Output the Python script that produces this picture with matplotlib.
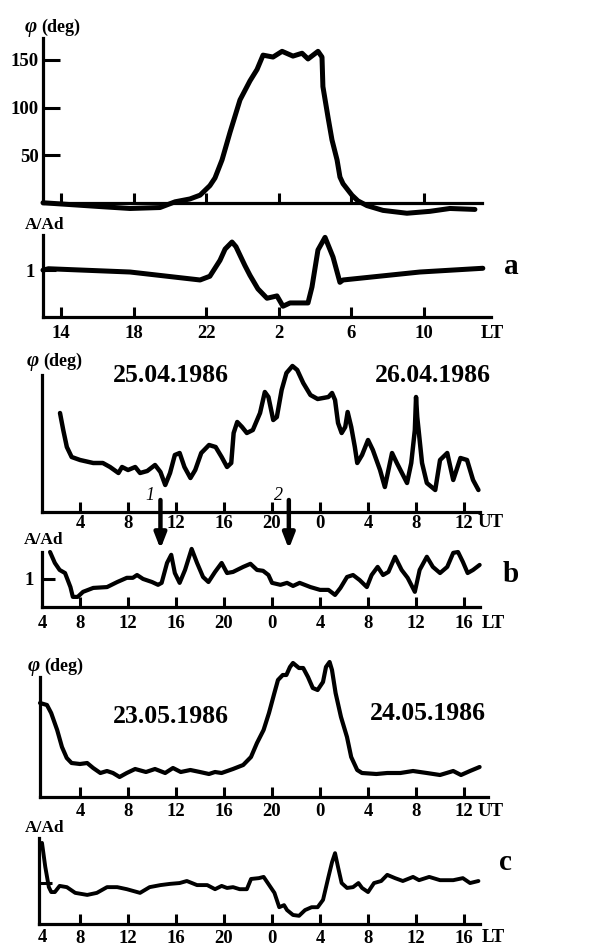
import matplotlib.pyplot as plt

plt.rcParams['font.family'] = ['Liberation Serif', 'DejaVu Serif']
plt.rcParams['font.weight'] = 'bold'

# ---- panel a (hours, continuous LT: 26 = 2 h next day) ----
a_phase_h = [13.0, 16.15, 17.8, 19.45, 20.28, 21.1, 21.66, 22.2, 22.48, 22.87, 23.31, 23.86,
             24.41, 24.8, 25.13, 25.68, 26.18, 26.78, 27.28, 27.61, 28.16, 28.38, 28.43, 28.71,
             28.93, 29.21, 29.37, 29.54, 30.03, 30.36, 30.86, 31.74, 33.06, 34.33, 35.43, 36.81]
a_phase = [0, -4, -6, -5, 1, 4, 8, 18, 26, 45, 74, 108,
           128, 140, 155, 153, 159, 154, 157, 151, 159, 153, 122, 90,
           66, 45, 27, 20, 8, 2, -3, -8, -11, -9, -6, -7]

a_amp_h = [13.0, 13.3, 17.8, 21.66, 22.2, 22.76, 23.04, 23.42, 23.64, 23.86, 24.13, 24.41, 24.85,
           25.35, 25.9, 26.23, 26.62, 27.61, 27.83, 28.16, 28.55, 28.99, 29.37, 29.54, 33.78, 37.25]
a_amp = [1.0, 1.03, 0.96, 0.79, 0.87, 1.21, 1.45, 1.6, 1.5, 1.32, 1.1, 0.89, 0.6,
         0.4, 0.45, 0.23, 0.3, 0.3, 0.64, 1.43, 1.7, 1.28, 0.74, 0.79, 0.96, 1.04]

a_ticks = [14, 18, 22, 26, 30, 34]
a_tick_labels = ['14', '18', '22', '2', '6', '10']
a_phase_ticks = [50, 100, 150]

# ---- panel b (hours UT, continuous from 25.04.1986 0 UT) ----
b_phase_h = [2.33, 2.6, 2.9, 3.3, 4.0, 5.1, 5.9, 6.5, 7.2, 7.5, 8.0, 8.6, 9.0, 9.6, 10.25, 10.7,
             11.1, 11.5, 11.9, 12.3, 12.7, 13.2, 13.6, 14.1, 14.75, 15.3, 15.8, 16.25, 16.6, 16.8,
             17.1, 17.5, 17.9, 18.4, 19.0, 19.4, 19.7, 20.1, 20.4, 20.8, 21.2, 21.7, 22.1, 22.6,
             23.2, 23.8, 24.7, 25.0, 25.25, 25.5, 25.8, 26.1, 26.3, 26.6, 26.9, 27.1, 27.5, 28.0,
             28.4, 29.0, 29.4, 30.0, 30.4, 31.25, 31.6, 31.9, 32.0, 32.1, 32.5, 32.9, 33.6, 34.0,
             34.6, 35.1, 35.7, 36.25, 36.75, 37.2]
b_phase = [99, 82, 65, 55, 52, 49, 49, 45, 39, 45, 42, 45, 39, 41, 47, 40,
           27, 39, 57, 59, 45, 34, 42, 59, 67, 65, 55, 45, 49, 79,
           90, 85, 79, 82, 99, 120, 115, 92, 95, 122, 139, 146, 142, 129,
           117, 113, 115, 119, 112, 89, 79, 85, 100, 85, 65, 49, 57, 72,
           62, 42, 25, 59, 49, 29, 49, 82, 115, 95, 49, 29, 22, 52,
           59, 32, 54, 52, 32, 22]

b_amp_h = [1.5, 1.9, 2.3, 2.75, 3.2, 3.4, 3.8, 4.25, 5.1, 6.25, 7.1, 7.9, 8.4, 8.75, 9.25, 10.0,
           10.5, 10.8, 11.25, 11.6, 11.9, 12.3, 12.75, 13.3, 13.75, 14.25, 14.7, 15.25, 15.8,
           16.25, 16.75, 17.6, 18.2, 18.75, 19.25, 19.7, 20.0, 20.7, 21.25, 21.75, 22.3, 23.2,
           24.0, 24.7, 25.25, 25.7, 26.25, 26.75, 27.3, 27.9, 28.3, 28.8, 29.25, 29.7, 30.25,
           30.8, 31.3, 31.9, 32.3, 32.9, 33.4, 34.0, 34.6, 35.1, 35.5, 35.9, 36.3, 36.75, 37.3]
b_amp = [1.96, 1.57, 1.32, 1.21, 0.71, 0.36, 0.36, 0.54, 0.68, 0.71, 0.89, 1.04, 1.04, 1.14, 1.0, 0.89,
         0.79, 0.86, 1.57, 1.86, 1.21, 0.86, 1.32, 2.07, 1.57, 1.07, 0.89, 1.25, 1.57,
         1.21, 1.25, 1.43, 1.54, 1.32, 1.29, 1.14, 0.86, 0.79, 0.86, 0.75, 0.86, 0.71,
         0.61, 0.61, 0.43, 0.68, 1.07, 1.14, 0.96, 0.71, 1.14, 1.43, 1.14, 1.25, 1.79,
         1.32, 1.04, 0.54, 1.32, 1.79, 1.43, 1.21, 1.43, 1.93, 1.96, 1.61, 1.21, 1.32, 1.5]

b_arrows_h = [10.7, 21.4]
b_arrow_names = ['1', '2']

# ---- panel c ----
c_phase_h = [0.67, 1.25, 1.6, 2.1, 2.5, 2.9, 3.3, 4.0, 4.6, 5.1, 5.7, 6.25, 6.75, 7.3, 7.9, 8.6,
             9.5, 10.25, 11.1, 11.75, 12.4, 13.2, 14.0, 14.75, 15.25, 15.8, 16.75, 17.6, 18.25,
             18.75, 19.3, 19.75, 20.2, 20.5, 20.9, 21.2, 21.5, 21.75, 22.25, 22.6, 23.0, 23.4,
             23.8, 24.25, 24.5, 24.8, 25.0, 25.3, 25.75, 26.25, 26.6, 27.1, 27.5, 28.7, 29.6,
             30.7, 31.75, 32.9, 34.0, 35.1, 35.75, 36.5, 37.3]
c_phase = [94, 92, 84, 67, 50, 39, 34, 33, 34, 29, 24, 26, 24, 20, 24, 28,
           25, 28, 24, 29, 25, 27, 25, 23, 25, 24, 28, 32, 40,
           54, 67, 84, 104, 117, 122, 122, 130, 134, 129, 129, 120, 109,
           107, 115, 130, 135, 127, 104, 80, 60, 40, 27, 24, 23, 24,
           24, 26, 24, 22, 26, 22, 26, 30]

c_amp_h = [0.83, 1.1, 1.4, 1.6, 1.9, 2.3, 2.9, 3.6, 4.6, 5.4, 6.25, 7.1, 7.9, 9.0, 9.8, 10.7,
           11.5, 12.3, 12.9, 13.75, 14.6, 15.25, 15.8, 16.25, 16.75, 17.3, 17.9, 18.25, 18.9,
           19.3, 19.6, 20.2, 20.6, 21.0, 21.25, 21.75, 22.25, 22.75, 23.3, 23.8, 24.25, 24.7,
           25.0, 25.25, 25.5, 25.8, 26.25, 26.75, 27.2, 27.5, 28.0, 28.5, 29.1, 29.6, 30.25,
           30.9, 31.75, 32.25, 33.1, 34.0, 35.1, 35.9, 36.5, 37.2]
c_amp = [1.98, 1.4, 0.9, 0.78, 0.78, 0.93, 0.9, 0.76, 0.71, 0.76, 0.9, 0.9, 0.85, 0.76, 0.9, 0.95,
         0.98, 1.0, 1.05, 0.95, 0.95, 0.85, 0.93, 0.88, 0.9, 0.85, 0.85, 1.1, 1.12,
         1.15, 1.02, 0.76, 0.41, 0.46, 0.34, 0.22, 0.2, 0.34, 0.41, 0.41, 0.59, 1.15,
         1.51, 1.73, 1.39, 1.0, 0.88, 0.9, 1.0, 0.88, 0.78, 1.0, 1.05, 1.2, 1.12,
         1.05, 1.15, 1.07, 1.15, 1.07, 1.07, 1.12, 1.0, 1.05]

bc_ticks = [4, 8, 12, 16, 20, 24, 28, 32, 36]
ut_labels = ['4', '8', '12', '16', '20', '0', '4', '8', '12']
lt_labels = ['8', '12', '16', '20', '0', '4', '8', '12', '16']

dates = ['25.04.1986', '26.04.1986', '23.05.1986', '24.05.1986']

W, H = 608, 947
fig = plt.figure(figsize=(W / 100, H / 100), dpi=100)
fig.patch.set_facecolor('white')


def box(x0, y0, x1, y1):
    return fig.add_axes([x0 / W, 1 - y1 / H, (x1 - x0) / W, (y1 - y0) / H])


def style(ax, pad=3):
    ax.patch.set_visible(False)
    ax.spines[['top', 'right']].set_visible(False)
    ax.spines[['left', 'bottom']].set_linewidth(2.3)
    ax.tick_params(direction='in', width=2.2, length=7, labelsize=13.5, pad=pad)
    ax.tick_params(axis='y', length=9)


def ftext(x, y, s, **kw):
    kw.setdefault('ha', 'center')
    kw.setdefault('va', 'center')
    kw.setdefault('fontsize', 13.5)
    return fig.text(x / W, 1 - y / H, s, **kw)


def phi_label(x, y):
    ftext(x, y, 'φ', ha='left', fontsize=15, style='italic')
    ftext(x + 16, y, '(deg)', ha='left', fontsize=13)


curve = dict(color='black', solid_joinstyle='round', solid_capstyle='round', clip_on=False)

# ---------- a ----------
ax = box(43, 38, 482, 218)
style(ax)
ax.plot(a_phase_h, a_phase, lw=3.6, **curve)
ax.set_xlim(13.0, 37.2)
ax.set_ylim(-16, 173)
ax.spines['bottom'].set_position(('data', 0))
ax.spines['left'].set_bounds(0, 173)
ax.set_xticks(a_ticks)
ax.set_xticklabels([])
ax.set_yticks(a_phase_ticks)
ax.tick_params(axis='y', length=12)
phi_label(25, 27)

ax = box(43, 235, 491, 317)
style(ax, pad=6)
ax.plot(a_amp_h, a_amp, lw=3.6, **curve)
ax.set_xlim(13.0, 37.7)
ax.set_ylim(0, 1.75)
ax.set_xticks(a_ticks)
ax.set_xticklabels(a_tick_labels)
ax.set_yticks([1])
ax.set_yticklabels(['1'])
ftext(45, 225, 'A/Ad', fontsize=12.5)
ftext(492, 333, 'LT')
ftext(511, 267, 'a', fontsize=21)

# ---------- b ----------
ax = box(42, 375, 480, 512)
style(ax, pad=2)
ax.plot(b_phase_h, b_phase, lw=3.2, **curve)
ax.set_ylim(0, 137)
ax.set_yticks([])
ax.set_xticks(bc_ticks)
ax.set_xticklabels(ut_labels)
ax.set_xlim(0.83, 37.33)
phi_label(27, 361)
ftext(171, 376, dates[0], fontsize=18.5)
ftext(433, 376, dates[1], fontsize=18.5)
ftext(491, 522, 'UT')
for h, name in zip(b_arrows_h, b_arrow_names):
    ax.annotate('', xy=(h, 1 - 549 / H), xytext=(h, 1 - 500 / H),
                xycoords=('data', 'figure fraction'), textcoords=('data', 'figure fraction'),
                arrowprops=dict(arrowstyle='-|>,head_length=0.9,head_width=0.35',
                                lw=3.2, color='black', shrinkA=0, shrinkB=0),
                annotation_clip=False)
    ax.annotate(name, xy=(h - 0.9, 1 - 495 / H), xycoords=('data', 'figure fraction'),
                ha='center', va='center', fontsize=13, style='italic', fontweight='normal',
                annotation_clip=False)

ax = box(42, 552, 480, 607)
style(ax, pad=6)
ax.plot(b_amp_h, b_amp, lw=3.0, **curve)
ax.set_ylim(0, 1.96)
ax.set_xticks(bc_ticks)
ax.set_xticklabels(lt_labels)
ax.set_xlim(0.83, 37.33)
ax.set_yticks([1])
ax.set_yticklabels(['1'])
ftext(44, 540, 'A/Ad', fontsize=12.5)
ftext(42, 623, '4')
ftext(493, 623, 'LT')
ftext(511, 575, 'b', fontsize=21)

# ---------- c ----------
ax = box(40, 677, 488, 797)
style(ax, pad=4)
ax.plot(c_phase_h, c_phase, lw=3.0, **curve)
ax.set_ylim(0, 120)
ax.set_yticks([])
ax.set_xticks(bc_ticks)
ax.set_xticklabels(ut_labels)
ax.set_xlim(0.67, 38.0)
phi_label(28, 666)
ftext(171, 716, dates[2], fontsize=18.5)
ftext(428, 714, dates[3], fontsize=18.5)
ftext(491, 811, 'UT')

ax = box(39, 838, 480, 924)
style(ax, pad=4)
ax.plot(c_amp_h, c_amp, lw=2.8, **curve)
ax.set_ylim(0, 2.1)
ax.set_xticks(bc_ticks)
ax.set_xticklabels(lt_labels)
ax.set_xlim(0.58, 37.33)
ax.set_yticks([1])
ax.set_yticklabels([])
ftext(45, 828, 'A/Ad', fontsize=12.5)
ftext(42, 937, '4')
ftext(493, 937, 'LT')
ftext(505, 862, 'c', fontsize=21)

fig.savefig('out.png', dpi=100, facecolor='white')
